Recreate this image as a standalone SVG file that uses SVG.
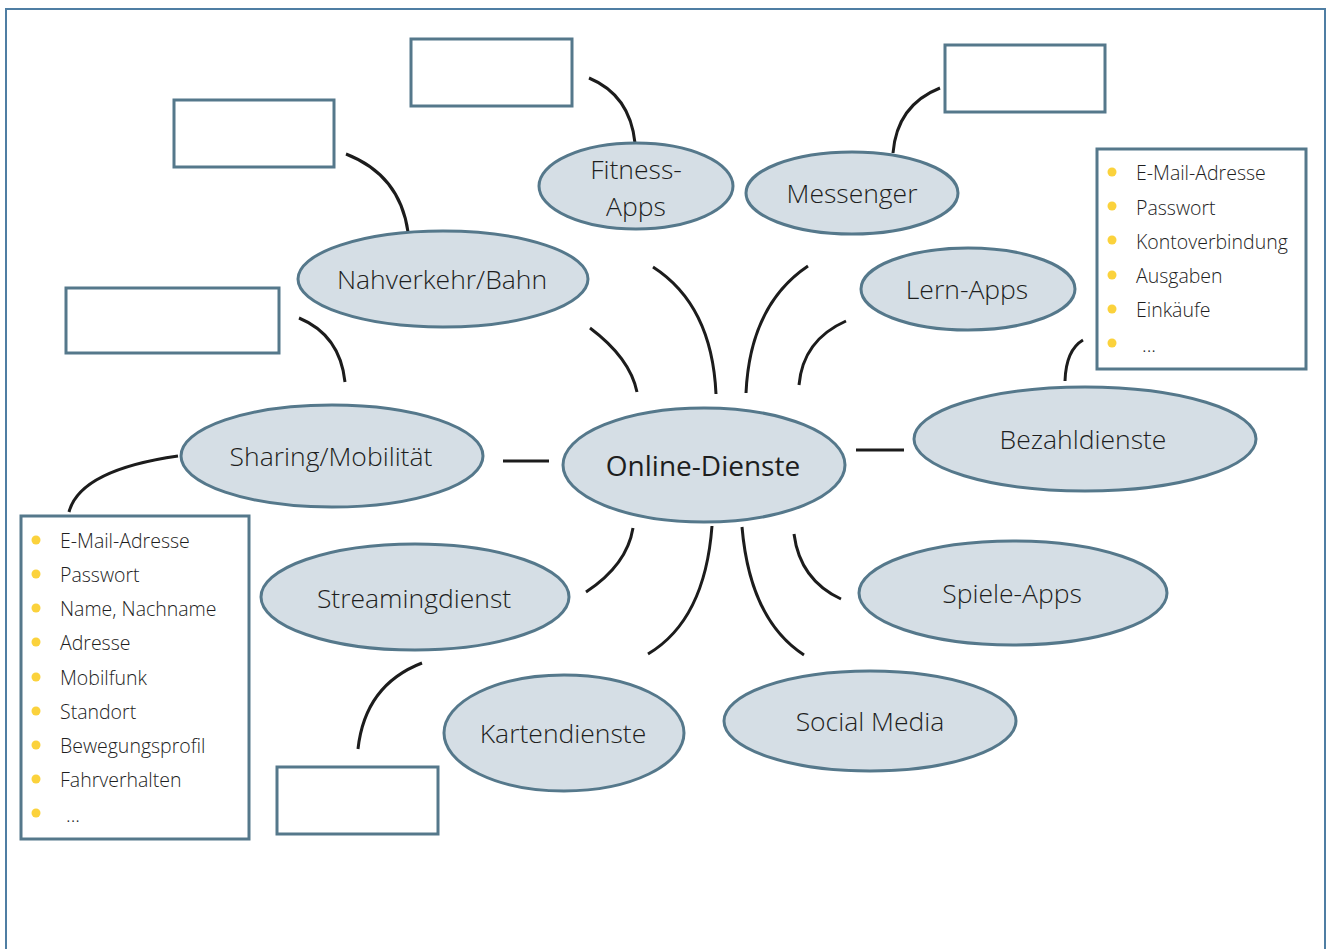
<svg xmlns="http://www.w3.org/2000/svg" width="1327" height="949" viewBox="0 0 1327 949">
  <defs>
    <style>
      .frame { fill: none; stroke: #4f7ea3; stroke-width: 2; }
      .node ellipse { fill: #d5dee5; stroke: #55788b; stroke-width: 3; }
      .box { fill: #ffffff; stroke: #55788b; stroke-width: 3; }
      .lbl { font-family: "Open Sans", "Noto Sans", sans-serif; font-size: 26.5px; font-weight: 350; fill: #1e1e1e; text-anchor: middle; }
      .main { font-weight: 500; font-size: 28px; }
      .item { font-family: "Open Sans", "Noto Sans", sans-serif; font-size: 19.5px; font-weight: 350; fill: #1e1e1e; }
      .dot { fill: #fbd23c; }
      .conn path { fill: none; stroke: #1c1c1c; stroke-width: 3; stroke-linecap: butt; }
    </style>
  </defs>

  <rect width="1327" height="949" fill="#ffffff"/>
  <!-- outer frame, open at the bottom -->
  <path class="frame" d="M6,949 V9 H1325 V949"/>

  <!-- connectors -->
  <g id="connectors" class="conn">
    <path d="M589,78 Q630,95 635,143"/>
    <path d="M346,154 Q400,175 408,232"/>
    <path d="M940,88 Q897,105 893,153"/>
    <path d="M299,318 Q340,335 345,382"/>
    <path d="M178,456 Q80,470 69,512"/>
    <path d="M1083,340 Q1066,350 1065,381"/>
    <path d="M422,663 Q365,685 358,749"/>
    <path d="M590,328 Q630,358 637,392"/>
    <path d="M653,267 Q712,305 716,394"/>
    <path d="M808,266 Q750,305 746,393"/>
    <path d="M846,321 Q803,340 799,385"/>
    <path d="M633,528 Q627,565 586,592"/>
    <path d="M712,526 Q705,620 648,654"/>
    <path d="M742,527 Q750,620 804,655"/>
    <path d="M794,534 Q800,580 841,599"/>
    <path d="M503,461 H549"/>
    <path d="M856,450 H904"/>
  </g>

  <!-- empty answer boxes -->
  <rect id="box-fitness" class="box" x="411" y="39" width="161" height="67"/>
  <rect id="box-nahverkehr" class="box" x="174" y="100" width="160" height="67"/>
  <rect id="box-messenger" class="box" x="945" y="45" width="160" height="67"/>
  <rect id="box-sharing" class="box" x="66" y="288" width="213" height="65"/>
  <rect id="box-streaming" class="box" x="277" y="767" width="161" height="67"/>

  <!-- service nodes -->
  <g id="node-fitness" class="node">
    <ellipse cx="636" cy="186" rx="97" ry="43"/>
    <text class="lbl" x="636" y="179">Fitness-</text>
    <text class="lbl" x="636" y="216">Apps</text>
  </g>
  <g id="node-messenger" class="node">
    <ellipse cx="852" cy="193" rx="106" ry="41"/>
    <text class="lbl" x="852" y="203">Messenger</text>
  </g>
  <g id="node-nahverkehr" class="node">
    <ellipse cx="443" cy="279" rx="145" ry="48"/>
    <text class="lbl" x="442" y="289">Nahverkehr/Bahn</text>
  </g>
  <g id="node-lernapps" class="node">
    <ellipse cx="968" cy="289" rx="107" ry="41"/>
    <text class="lbl" x="967" y="299">Lern-Apps</text>
  </g>
  <g id="node-sharing" class="node">
    <ellipse cx="332" cy="456" rx="151" ry="51"/>
    <text class="lbl" x="331" y="466">Sharing/Mobilität</text>
  </g>
  <g id="node-online" class="node">
    <ellipse cx="704" cy="465" rx="141" ry="57"/>
    <text class="lbl main" x="703" y="476">Online-Dienste</text>
  </g>
  <g id="node-bezahl" class="node">
    <ellipse cx="1085" cy="439" rx="171" ry="52"/>
    <text class="lbl" x="1083" y="449">Bezahldienste</text>
  </g>
  <g id="node-streaming" class="node">
    <ellipse cx="415" cy="597" rx="154" ry="53"/>
    <text class="lbl" x="414" y="608">Streamingdienst</text>
  </g>
  <g id="node-spiele" class="node">
    <ellipse cx="1013" cy="593" rx="154" ry="52"/>
    <text class="lbl" x="1012" y="603">Spiele-Apps</text>
  </g>
  <g id="node-karten" class="node">
    <ellipse cx="564" cy="733" rx="120" ry="58"/>
    <text class="lbl" x="563" y="743">Kartendienste</text>
  </g>
  <g id="node-social" class="node">
    <ellipse cx="870" cy="721" rx="146" ry="50"/>
    <text class="lbl" x="870" y="731">Social Media</text>
  </g>

  <!-- data list for Bezahldienste -->
  <g id="list-bezahl">
    <rect class="box" x="1097" y="149" width="209" height="220"/>
    <circle class="dot" cx="1112" cy="172" r="4.5"/>
    <circle class="dot" cx="1112" cy="206" r="4.5"/>
    <circle class="dot" cx="1112" cy="240" r="4.5"/>
    <circle class="dot" cx="1112" cy="275" r="4.5"/>
    <circle class="dot" cx="1112" cy="309" r="4.5"/>
    <circle class="dot" cx="1112" cy="343" r="4.5"/>
    <text class="item" x="1136" y="180">E-Mail-Adresse</text>
    <text class="item" x="1136" y="215">Passwort</text>
    <text class="item" x="1136" y="249">Kontoverbindung</text>
    <text class="item" x="1136" y="283">Ausgaben</text>
    <text class="item" x="1136" y="317">Einkäufe</text>
    <text class="item" x="1142" y="352">...</text>
  </g>

  <!-- data list for Sharing/Mobilität -->
  <g id="list-sharing">
    <rect class="box" x="21" y="516" width="228" height="323"/>
    <circle class="dot" cx="36" cy="540" r="4.5"/>
    <circle class="dot" cx="36" cy="574" r="4.5"/>
    <circle class="dot" cx="36" cy="608" r="4.5"/>
    <circle class="dot" cx="36" cy="642" r="4.5"/>
    <circle class="dot" cx="36" cy="677" r="4.5"/>
    <circle class="dot" cx="36" cy="711" r="4.5"/>
    <circle class="dot" cx="36" cy="745" r="4.5"/>
    <circle class="dot" cx="36" cy="779" r="4.5"/>
    <circle class="dot" cx="36" cy="813" r="4.5"/>
    <text class="item" x="60" y="548">E-Mail-Adresse</text>
    <text class="item" x="60" y="582">Passwort</text>
    <text class="item" x="60" y="616">Name, Nachname</text>
    <text class="item" x="60" y="650">Adresse</text>
    <text class="item" x="60" y="685">Mobilfunk</text>
    <text class="item" x="60" y="719">Standort</text>
    <text class="item" x="60" y="753">Bewegungsprofil</text>
    <text class="item" x="60" y="787">Fahrverhalten</text>
    <text class="item" x="66" y="822">...</text>
  </g>
</svg>
